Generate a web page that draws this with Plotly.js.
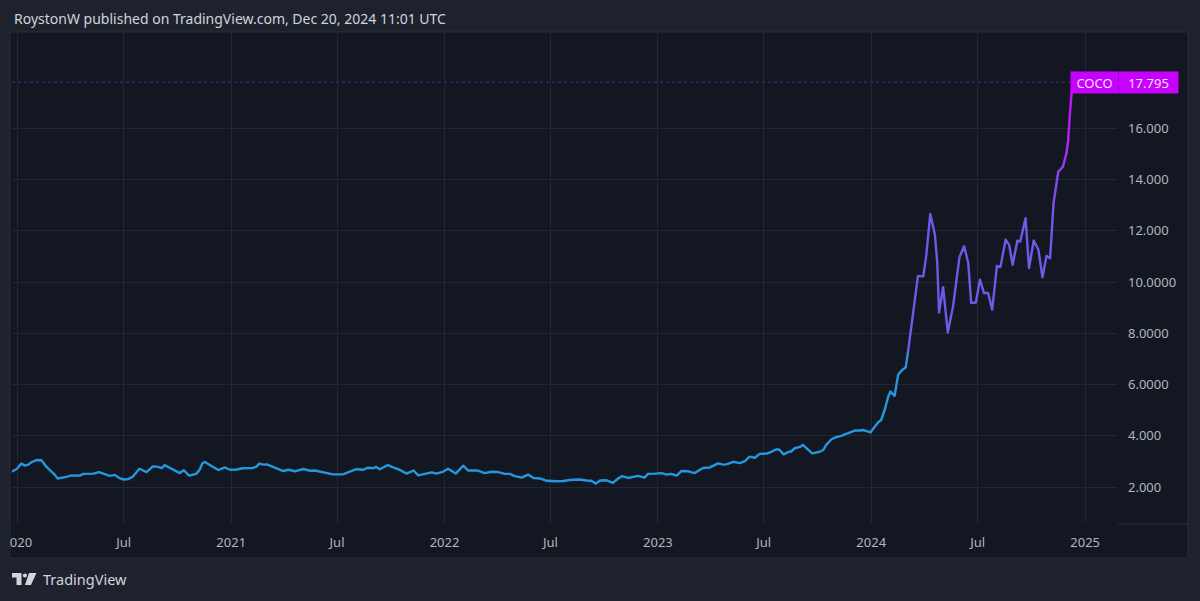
<!DOCTYPE html>
<html><head><meta charset="utf-8">
<script src="https://cdn.plot.ly/plotly-3.0.1.min.js"></script>
<style>
html,body{margin:0;padding:0;background:#1e222d;}
#chart{width:1200px;height:601px;}
path.js-line{stroke-linejoin:round;stroke-linecap:round;}
</style>
</head><body><div id="chart"></div>
<script>
// ---- data ----
const dates = [
'2019-12-24','2019-12-31','2020-01-08','2020-01-14','2020-01-20','2020-01-25','2020-02-03','2020-02-11','2020-02-14','2020-02-20',
'2020-02-28','2020-03-05','2020-03-10','2020-03-16','2020-03-25','2020-04-03','2020-04-11','2020-04-17','2020-04-23','2020-05-01',
'2020-05-10','2020-05-20','2020-05-30','2020-06-07','2020-06-16','2020-06-24','2020-07-01','2020-07-09','2020-07-16','2020-07-28',
'2020-08-09','2020-08-20','2020-08-29','2020-09-04','2020-09-09','2020-09-18','2020-09-26','2020-10-05','2020-10-12','2020-10-21',
'2020-11-02','2020-11-08','2020-11-13','2020-11-17','2020-11-28','2020-12-10','2020-12-21','2020-12-30','2021-01-10','2021-01-21',
'2021-02-07','2021-02-13','2021-02-18','2021-02-25','2021-03-03','2021-03-11','2021-03-23','2021-03-31','2021-04-09','2021-04-20',
'2021-05-04','2021-05-16','2021-05-24','2021-06-02','2021-06-13','2021-06-24','2021-07-11','2021-07-23','2021-08-03','2021-08-15',
'2021-08-23','2021-09-01','2021-09-06','2021-09-12','2021-09-26','2021-10-05','2021-10-16','2021-10-28','2021-11-09','2021-11-17',
'2021-11-28','2021-12-10','2021-12-18','2021-12-29','2022-01-07','2022-01-20','2022-02-02','2022-02-10','2022-02-27','2022-03-11',
'2022-03-22','2022-04-03','2022-04-14','2022-04-23','2022-05-01','2022-05-13','2022-05-24','2022-06-02','2022-06-13','2022-06-25',
'2022-07-12','2022-07-23','2022-08-03','2022-08-20','2022-09-01','2022-09-09','2022-09-17','2022-09-24','2022-10-05','2022-10-16',
'2022-10-25','2022-11-01','2022-11-11','2022-11-20','2022-11-28','2022-12-09','2022-12-15','2022-12-27','2023-01-07','2023-01-16',
'2023-01-24','2023-02-02','2023-02-10','2023-02-22','2023-03-05','2023-03-19','2023-03-31','2023-04-14','2023-04-23','2023-04-28',
'2023-05-10','2023-05-21','2023-05-30','2023-06-07','2023-06-16','2023-06-24','2023-07-06','2023-07-14','2023-07-23','2023-07-28',
'2023-08-04','2023-08-12','2023-08-17','2023-08-23','2023-09-01','2023-09-06','2023-09-14','2023-09-22','2023-10-05','2023-10-11',
'2023-10-16','2023-10-25','2023-11-02','2023-11-11','2023-11-19','2023-11-28','2023-12-04','2023-12-12','2023-12-18','2023-12-27',
'2023-12-31','2024-01-07','2024-01-13','2024-01-18','2024-01-24','2024-01-30','2024-02-03','2024-02-10','2024-02-16','2024-02-22',
'2024-02-29','2024-03-04','2024-03-10','2024-03-16','2024-03-21','2024-03-30','2024-04-04','2024-04-11','2024-04-19','2024-04-23',
'2024-04-26','2024-05-03','2024-05-11','2024-05-20','2024-05-31','2024-06-08','2024-06-15','2024-06-20','2024-06-28','2024-07-05',
'2024-07-12','2024-07-19','2024-07-26','2024-08-03','2024-08-09','2024-08-18','2024-08-24','2024-08-30','2024-09-07','2024-09-12',
'2024-09-21','2024-09-27','2024-10-05','2024-10-13','2024-10-20','2024-10-27','2024-11-02','2024-11-08','2024-11-16','2024-11-24',
'2024-11-30','2024-12-03','2024-12-06','2024-12-09','2024-12-10'
];
const prices = [
2.62,2.71,2.92,2.84,2.88,2.97,3.06,3.05,2.97,2.79,
2.62,2.49,2.34,2.36,2.40,2.46,2.46,2.45,2.52,2.53,
2.53,2.59,2.52,2.44,2.48,2.35,2.30,2.32,2.40,2.72,
2.59,2.81,2.79,2.74,2.86,2.76,2.66,2.55,2.66,2.45,
2.52,2.68,2.94,2.98,2.83,2.67,2.77,2.68,2.69,2.74,
2.75,2.80,2.92,2.88,2.89,2.81,2.71,2.63,2.68,2.62,
2.71,2.64,2.65,2.60,2.55,2.50,2.50,2.59,2.70,2.68,
2.76,2.74,2.79,2.70,2.86,2.77,2.68,2.53,2.65,2.46,
2.52,2.58,2.53,2.60,2.72,2.53,2.84,2.65,2.65,2.55,
2.60,2.59,2.52,2.52,2.43,2.37,2.49,2.36,2.34,2.25,
2.23,2.24,2.28,2.30,2.26,2.25,2.14,2.26,2.27,2.17,
2.34,2.43,2.36,2.40,2.44,2.37,2.52,2.53,2.55,2.49,
2.52,2.45,2.63,2.62,2.55,2.75,2.77,2.93,2.88,2.89,
2.99,2.94,3.02,3.19,3.15,3.30,3.31,3.38,3.48,3.46,
3.28,3.37,3.39,3.52,3.57,3.65,3.49,3.32,3.38,3.45,
3.65,3.87,3.95,4.00,4.08,4.17,4.21,4.21,4.23,4.17,
4.14,4.36,4.53,4.62,5.01,5.53,5.73,5.56,6.38,6.55,
6.67,7.29,8.40,9.31,10.24,10.22,11.00,12.65,11.84,10.74,
8.81,9.80,8.03,9.05,10.97,11.39,10.74,9.18,9.20,10.09,
9.57,9.57,8.92,10.63,10.58,11.65,11.45,10.67,11.61,11.58,
12.49,10.54,11.62,11.26,10.18,11.02,10.93,13.08,14.30,14.50,
15.02,15.54,16.58,17.42,17.795
];
const xTickVals = ['2020-01-01','2020-07-01','2021-01-01','2021-07-01','2022-01-01','2022-07-01','2023-01-01','2023-07-01','2024-01-01','2024-07-01','2025-01-01'];
const xTickText = ['2020','Jul','2021','Jul','2022','Jul','2023','Jul','2024','Jul','2025'];
const yTickVals = [2,4,6,8,10,12,14,16];
const yTickText = ['2.000','4.000','6.0000','8.0000','10.0000','12.000','14.000','16.000'];
const symbol = 'COCO';
const lastPriceText = '17.795';
const headerText = 'RoystonW published on TradingView.com, Dec 20, 2024 11:01 UTC';
const brandText = 'TradingView';

// ---- geometry helpers (pixel -> paper) ----
const L = 12, R = 1117, T = 33, B = 523;
const px = x => (x - L) / (R - L);
const py = y => (B - y) / (B - T);

// ---- gradient colour by price ----
const stops = [[0,[36,152,222]],[6.8,[36,152,222]],[7.8,[112,88,232]],[13,[112,88,232]],[15,[165,45,245]],[17.8,[205,10,255]]];
function colorFor(v){
  for(let i=0;i<stops.length-1;i++){
    const [a,ca]=stops[i],[b,cb]=stops[i+1];
    if(v<=b){
      const t=Math.max(0,Math.min(1,(v-a)/(b-a)));
      const c=ca.map((k,j)=>Math.round(k+(cb[j]-k)*t));
      return 'rgb('+c.join(',')+')';
    }
  }
  const c=stops[stops.length-1][1];
  return 'rgb('+c.join(',')+')';
}
const traces=[];
let cur=null;
for(let i=0;i<dates.length-1;i++){
  const col=colorFor((prices[i]+prices[i+1])/2);
  if(cur && cur.line.color===col){
    cur.x.push(dates[i+1]); cur.y.push(prices[i+1]);
  } else {
    cur={type:'scatter',mode:'lines',x:[dates[i],dates[i+1]],y:[prices[i],prices[i+1]],
      line:{color:col,width:2.4},hoverinfo:'skip',showlegend:false};
    traces.push(cur);
  }
}
const last = prices[prices.length-1];

const labelColor='#c800ff';
const shapes=[
  {type:'rect',xref:'paper',yref:'paper',x0:px(10),x1:px(1188),y0:py(558),y1:py(32),
    fillcolor:'#131722',line:{color:'#2a2e39',width:1},layer:'below'},
  {type:'line',xref:'paper',yref:'paper',x0:px(1118),x1:px(1188),y0:py(524),y1:py(524),
    line:{color:'#2a2e39',width:1},layer:'below'},
  {type:'line',xref:'paper',yref:'y',x0:0,x1:px(1070),y0:last,y1:last,
    line:{color:'rgba(150,40,220,0.6)',width:1,dash:'dot'},layer:'below'},
  {type:'rect',xref:'paper',yref:'paper',x0:px(0),x1:px(9.4),y0:py(562),y1:py(520),
    fillcolor:'#1e222d',line:{width:0},layer:'above'},
  // TradingView logo
  {type:'path',xref:'paper',yref:'paper',layer:'above',fillcolor:'#d1d4dc',line:{width:0},
    path:`M${px(12)},${py(573)} L${px(21.5)},${py(573)} L${px(21.5)},${py(585)} L${px(16.5)},${py(585)} L${px(16.5)},${py(577.5)} L${px(12)},${py(577.5)} Z`},
  {type:'circle',xref:'paper',yref:'paper',layer:'above',fillcolor:'#d1d4dc',line:{width:0},
    x0:px(22.8),x1:px(27),y0:py(577.6),y1:py(573.4)},
  {type:'path',xref:'paper',yref:'paper',layer:'above',fillcolor:'#d1d4dc',line:{width:0},
    path:`M${px(29)},${py(573)} L${px(36.5)},${py(573)} L${px(31)},${py(585)} L${px(25)},${py(585)} Z`}
];
const annotations=[
  {xref:'paper',yref:'paper',x:px(12),y:py(18),xanchor:'left',yanchor:'middle',showarrow:false,
    text:headerText,font:{size:14,color:'#d1d4dc'}},
  {xref:'paper',yref:'paper',x:px(41),y:py(579),xanchor:'left',yanchor:'middle',showarrow:false,
    text:brandText,font:{size:14.5,color:'#d1d4dc'}},
  {xref:'paper',yref:'y',x:px(1070),y:last,xanchor:'left',yanchor:'middle',showarrow:false,
    text:symbol,width:47,height:21,borderpad:0,bgcolor:labelColor,font:{size:13,color:'#f0e6f8'}},
  {xref:'paper',yref:'y',x:px(1118),y:last,xanchor:'left',yanchor:'middle',showarrow:false,
    text:lastPriceText,width:59,height:21,borderpad:0,bgcolor:labelColor,font:{size:13,color:'#f0e6f8'}}
];

const layout={
  width:1200,height:601,
  paper_bgcolor:'#1e222d',plot_bgcolor:'rgba(0,0,0,0)',
  margin:{l:L,r:1200-R,t:T,b:601-B},
  showlegend:false,
  font:{family:'"Noto Sans", sans-serif',color:'#b2b5be',size:13},
  xaxis:{type:'date',range:['2019-12-22 22:00','2025-02-24 12:00'],tickmode:'array',
    tickvals:xTickVals,ticktext:xTickText,showgrid:true,gridcolor:'#232733',gridwidth:1,
    zeroline:false,showline:false,ticks:'',ticklen:0,ticklabelstandoff:10,
    tickfont:{size:13,color:'#b2b5be'},fixedrange:true},
  yaxis:{side:'right',range:[0.604,19.708],tickmode:'array',tickvals:yTickVals,ticktext:yTickText,
    showgrid:true,gridcolor:'#232733',gridwidth:1,zeroline:false,showline:false,ticks:'',ticklen:0,
    ticklabelstandoff:10,tickfont:{size:13,color:'#b2b5be'},fixedrange:true},
  shapes:shapes,annotations:annotations
};
Plotly.newPlot('chart',traces,layout,{staticPlot:true,displayModeBar:false});
</script>
</body></html>
